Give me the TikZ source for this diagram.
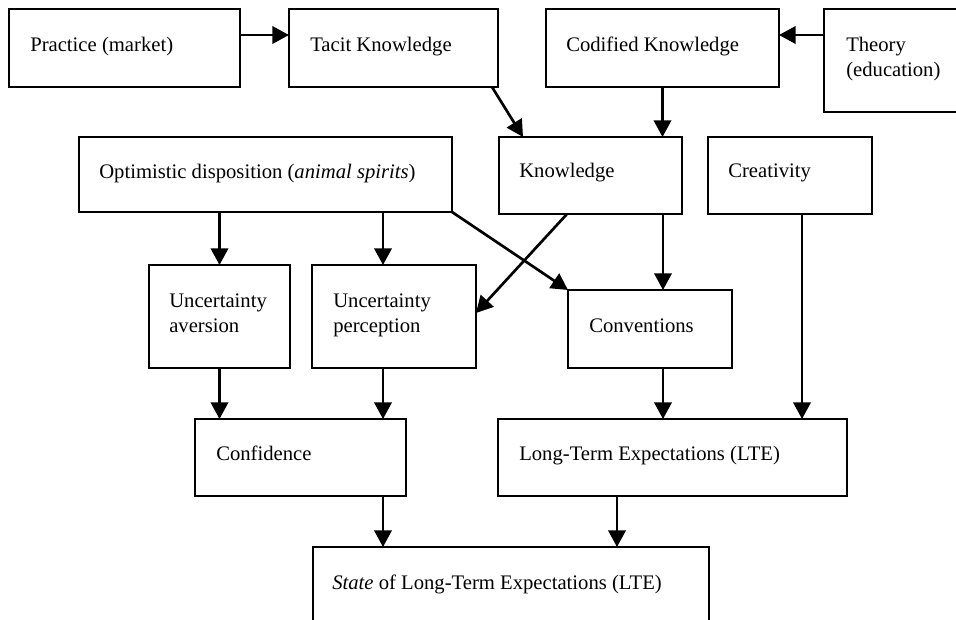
\documentclass[tikz,border=0pt]{standalone}
\usepackage{fontspec}
\setmainfont{Liberation Serif}
\usetikzlibrary{arrows.meta,calc,fit}
\tikzset{
  box/.style={draw=black, line width=2pt, inner sep=0pt, outer sep=0pt, fill=none},
  lbl/.style={inner sep=0pt, anchor=base west, align=left, font=\fontsize{15.5pt}{18.75pt}\selectfont},
  arr/.style={draw=black, line width=2pt, -{Triangle[length=12.5pt,width=13pt]}}
}
\begin{document}
\begin{tikzpicture}[x=0.75pt,y=-0.75pt]
\clip (0,0) rectangle (956,620);
\fill[white] (0,0) rectangle (956,620);
% boxes
\node[box, fit={(9,9)(240,87)}] (prac) {};
\node[box, fit={(289,9)(498,87)}] (tacit) {};
\node[box, fit={(546,9)(779,87)}] (cod) {};
\node[box, fit={(824,9)(975,112)}] (theory) {};
\node[box, fit={(79,137)(452,212)}] (opt) {};
\node[box, fit={(499,137)(682,214)}] (know) {};
\node[box, fit={(708,137)(872,214)}] (crea) {};
\node[box, fit={(149,265)(290,368)}] (ua) {};
\node[box, fit={(312,265)(476,368)}] (up) {};
\node[box, fit={(568,290)(732,368)}] (conv) {};
\node[box, fit={(195,419)(406,496)}] (conf) {};
\node[box, fit={(498,419)(847,496)}] (lte) {};
\node[box, fit={(313,547)(709,640)}] (state) {};
% texts (base anchor of a two-line text is its last line)
\node[lbl] (tprac) at (30,52) {Practice (market)};
\node[lbl] (ttacit) at (310,52) {Tacit Knowledge};
\node[lbl] (tcod) at (566,52) {Codified Knowledge};
\node[lbl] (ttheory) at (846,77) {Theory\\(education)};
\node[lbl] (topt) at (99,179) {Optimistic disposition (\textit{animal spirits})};
\node[lbl] (tknow) at (519,178) {Knowledge};
\node[lbl] (tcrea) at (728,178) {Creativity};
\node[lbl] (tua) at (169,332) {Uncertainty\\aversion};
\node[lbl] (tup) at (333,332) {Uncertainty\\perception};
\node[lbl] (tconv) at (589,332) {Conventions};
\node[lbl] (tconf) at (216,460) {Confidence};
\node[lbl] (tlte) at (519,460) {Long-Term Expectations (LTE)};
\node[lbl] (tstate) at (332,589) {\textit{State} of Long-Term Expectations (LTE)};
% connectors
\draw[arr] ($(prac.north east)+(0,26)$) -- ($(tacit.north west)+(0,26)$);
\draw[arr] ($(theory.north west)+(0,26)$) -- ($(cod.north east)+(0,26)$);
\draw[arr] ($(tacit.south east)+(-6,0)$) -- ($(know.north west)+(24,0)$);
\draw[arr] (cod.south) -- (cod.south |- know.north);
\draw[arr] (opt.south -| ua.north) -- (ua.north);
\draw[arr] ($(opt.south west)+(304,0)$) -- ($(up.north west)+(71,0)$);
\draw[arr] (opt.south east) -- (conv.north west);
\draw[arr] ($(know.south west)+(68,0)$) -- ($(up.north east)+(0,48)$);
\draw[arr] ($(know.south east)+(-19,0)$) -- ($(conv.north west)+(95,0)$);
\draw[arr] ($(crea.south west)+(94,0)$) -- ($(lte.north west)+(304,0)$);
\draw[arr] (ua.south) -- (ua.south |- conf.north);
\draw[arr] ($(up.south west)+(71,0)$) -- ($(conf.north west)+(188,0)$);
\draw[arr] ($(conv.south west)+(95,0)$) -- ($(lte.north west)+(165,0)$);
\draw[arr] ($(conf.south west)+(188,0)$) -- ($(state.north west)+(70,0)$);
\draw[arr] ($(lte.south west)+(119,0)$) -- ($(state.north west)+(304,0)$);
\end{tikzpicture}
\end{document}
